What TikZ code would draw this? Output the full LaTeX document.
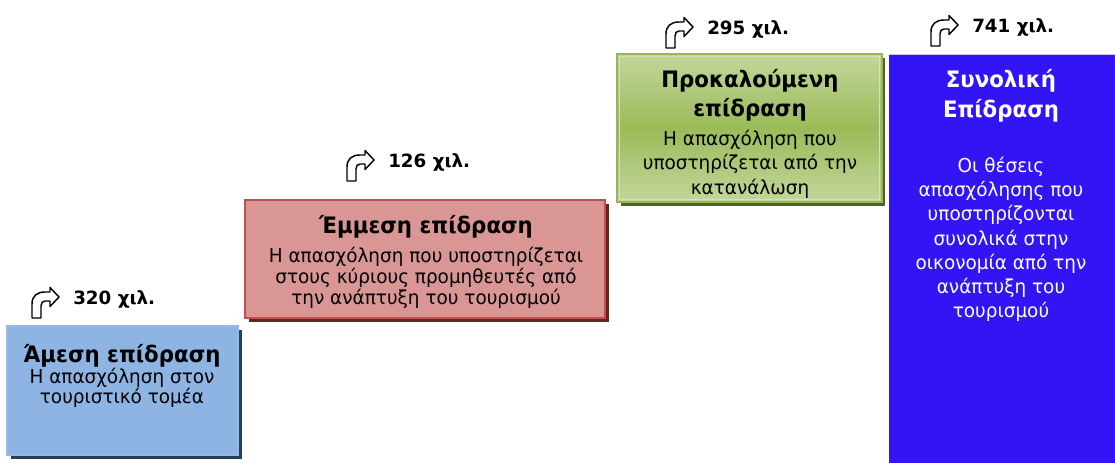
\documentclass[tikz,border=0pt]{standalone}
\usepackage{fontspec}
\setmainfont{DejaVu Sans}
\newfontfamily\hdrfont{DejaVu Sans}[FakeStretch=0.94]
\newfontfamily\bdyfont{DejaVu Sans}[FakeStretch=0.96]
\definecolor{boxblue}{RGB}{142,180,227}
\definecolor{boxblueedge}{RGB}{150,186,230}
\definecolor{shblue}{RGB}{36,63,96}
\definecolor{boxred}{RGB}{217,150,148}
\definecolor{boxrededge}{RGB}{192,80,77}
\definecolor{shred}{RGB}{99,37,35}
\definecolor{greenlight}{RGB}{195,214,155}
\definecolor{greenmid}{RGB}{155,187,89}
\definecolor{greenedge}{RGB}{150,182,86}
\definecolor{shgreen}{RGB}{79,98,40}
\definecolor{bigblue}{RGB}{50,20,245}
\definecolor{bigblueedge}{RGB}{200,190,245}
\begin{document}
\begin{tikzpicture}[x=0.75pt,y=-0.75pt,
  lbl/.style={font=\bfseries\fontsize{13.7}{16}\selectfont, anchor=base west, inner sep=0pt},
  hdr/.style={font=\hdrfont\bfseries\fontsize{17}{20}\selectfont, anchor=base, inner sep=0pt},
  bdy/.style={font=\bdyfont\fontsize{14.4}{17}\selectfont, anchor=base, inner sep=0pt},
  turnarrow/.pic={\draw[black, line width=1.1pt, fill=white, line join=round]
     (0,31) -- (0,17) .. controls (0,9) and (5,5) .. (13,5) -- (18,5) -- (18,0.5)
     -- (27,10) -- (18,19.5) -- (18,14) -- (13,14) .. controls (10.5,14) and (9,16) .. (9,19)
     -- (9,31) -- cycle;}]
\useasboundingbox (0,0) rectangle (1115,463);

% --- Direct impact box
\fill[shblue] (11,330) rectangle (242,459);
\draw[boxblueedge, fill=boxblue, line width=0.8pt] (7,326) rectangle (238,455);
\node[hdr] (h1) at (122,363) {Άμεση επίδραση};
\node[bdy] (b1a) at (122,383.5) {Η απασχόληση στον};
\node[bdy] (b1b) at (122,404) {τουριστικό τομέα};

% --- Indirect impact box
\fill[shred] (249,204) rectangle (609,322);
\draw[boxrededge, fill=boxred, line width=1.5pt] (245,200) rectangle (605,318);
\node[hdr] (h2) at (426,234) {Έμμεση επίδραση};
\node[bdy] (b2a) at (426,262.5) {Η απασχόληση που υποστηρίζεται};
\node[bdy] (b2b) at (426,283.5) {στους κύριους προμηθευτές από};
\node[bdy] (b2c) at (426,305) {την ανάπτυξη του τουρισμού};

% --- Induced impact box
\fill[shgreen] (621,58) rectangle (885,206);
\shade[top color=greenlight, bottom color=greenlight, middle color=greenmid] (617,54) rectangle (882,202);
\draw[greenedge, line width=1.5pt] (617,54) rectangle (882,202);
\draw[greenlight!70!white, line width=0.6pt] (619.5,56.5) rectangle (879.5,199.5);
\node[hdr] (h3a) at (750,88) {Προκαλούμενη};
\node[hdr] (h3b) at (750,117) {επίδραση};
\node[bdy] (b3a) at (750,146) {Η απασχόληση που};
\node[bdy] (b3b) at (750,170) {υποστηρίζεται από την};
\node[bdy] (b3c) at (750,195) {κατανάλωση};

% --- Total impact box
\fill[bigblue] (889,54) rectangle (1115,463);
\draw[bigblueedge, line width=0.6pt] (889,54.4) -- (1115,54.4);
\node[hdr, text=white] (h4a) at (1001,88) {Συνολική};
\node[hdr, text=white] (h4b) at (1001,118) {Επίδραση};
\node[bdy, text=white] (b4a) at (1001,173) {Οι θέσεις};
\node[bdy, text=white] (b4b) at (1001,197) {απασχόλησης που};
\node[bdy, text=white] (b4c) at (1001,221) {υποστηρίζονται};
\node[bdy, text=white] (b4d) at (1001,245.5) {συνολικά στην};
\node[bdy, text=white] (b4e) at (1001,270) {οικονομία από την};
\node[bdy, text=white] (b4f) at (1001,294) {ανάπτυξη του};
\node[bdy, text=white] (b4g) at (1001,318) {τουρισμού};

% --- Value labels with turn arrows
\pic at (32,287) {turnarrow};
\node[lbl] (v1) at (73,305) {320 χιλ.};
\pic at (347,150) {turnarrow};
\node[lbl] (v2) at (388,168) {126 χιλ.};
\pic at (666,17) {turnarrow};
\node[lbl] (v3) at (707,35) {295 χιλ.};
\pic at (931,15) {turnarrow};
\node[lbl] (v4) at (972,33) {741 χιλ.};
\end{tikzpicture}
\end{document}
